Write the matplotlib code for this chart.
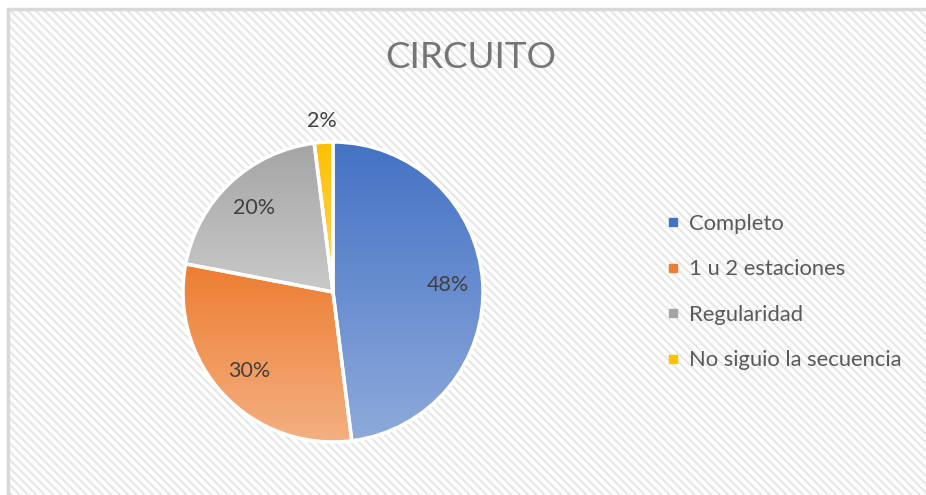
import numpy as np
import matplotlib
matplotlib.use("Agg")
import matplotlib.pyplot as plt
from matplotlib.patches import Rectangle
from matplotlib.lines import Line2D
from matplotlib.colors import LinearSegmentedColormap

labels = ["Completo", "1 u 2 estaciones", "Regularidad", "No siguio la secuencia"]
values = [48, 30, 20, 2]
top_colors = ["#4472C4", "#ED7D31", "#A5A5A5", "#FFC000"]
bottom_colors = ["#8EAADB", "#F4B183", "#C9C9C9", "#FFD966"]

plt.rcParams["font.family"] = ["Lato", "DejaVu Sans"]
plt.rcParams["hatch.linewidth"] = 1.5

fig = plt.figure(figsize=(9.26, 4.95), dpi=100)
fig.patch.set_facecolor("white")

# striped chart background with light border
bg = Rectangle((8 / 926, -0.1), 1.2, 1 - 9 / 495 + 0.1, transform=fig.transFigure,
               facecolor="white", edgecolor="#e6e6e6", hatch="\\\\\\\\", linewidth=0,
               zorder=-2)
fig.add_artist(bg)
border = Rectangle((8 / 926, -0.1), 1.2, 1 - 9 / 495 + 0.1, transform=fig.transFigure,
                   facecolor="none", edgecolor="#d9d9d9", linewidth=2.5, zorder=-1)
fig.add_artist(border)

fig.text(471 / 926, 1 - 58 / 495, "CIRCUITO", ha="center", va="center",
         fontsize=26.5, color="#757575")

ax = fig.add_axes([145.5 / 926, 15.5 / 495, 375 / 926, 375 / 495])
ax.patch.set_alpha(0)

wedges, texts = ax.pie(values, startangle=90, counterclock=False,
                       wedgeprops=dict(edgecolor="white", linewidth=2.5))

for w, c0, c1 in zip(wedges, top_colors, bottom_colors):
    w.set_facecolor("none")
    w.set_zorder(3)
    verts = w.get_path().vertices
    x0, x1 = verts[:, 0].min(), verts[:, 0].max()
    y0, y1 = verts[:, 1].min(), verts[:, 1].max()
    cmap = LinearSegmentedColormap.from_list("g", [c1, c0])
    grad = np.linspace(0, 1, 256).reshape(-1, 1)
    im = ax.imshow(grad, cmap=cmap, extent=[x0, x1, y0, y1], origin="lower",
                   aspect="auto", zorder=2)
    im.set_clip_path(w)

# percentage labels
total = sum(values)
start = 90.0
for v in values:
    frac = v / total
    mid = np.deg2rad(start - frac * 180)
    start -= frac * 360
    r = 1.14 if frac < 0.05 else 0.77
    ax.text(r * np.cos(mid), r * np.sin(mid), f"{v}%", ha="center", va="center",
            fontsize=15.5, color="#404040", zorder=5)

ax.set_xlim(-1.25, 1.25)
ax.set_ylim(-1.25, 1.25)
ax.axis("off")

handles = [Line2D([], [], marker="s", linestyle="none", markersize=6,
                  markerfacecolor=c, markeredgecolor=c) for c in top_colors]
fig.legend(handles, labels, loc="center left", bbox_to_anchor=(647 / 926, 1 - 292 / 495),
           frameon=False, fontsize=15.8, labelcolor="#595959", handlelength=0.6,
           handletextpad=0.4, labelspacing=1.16)

fig.savefig("out.png", dpi=100)
